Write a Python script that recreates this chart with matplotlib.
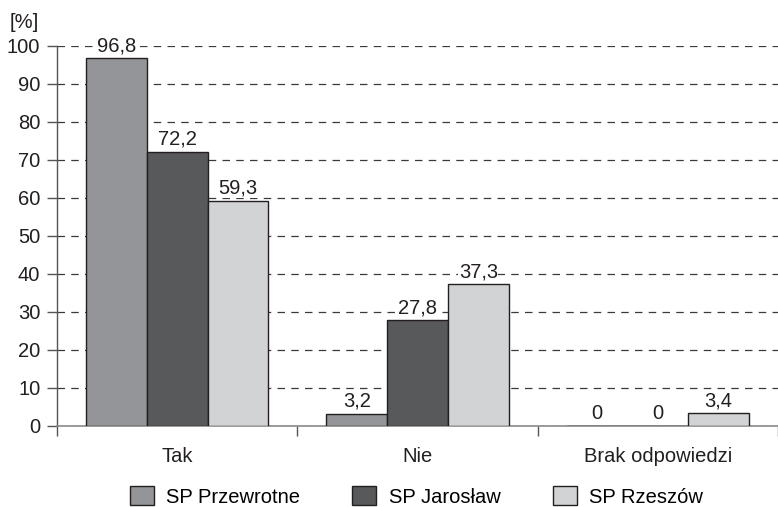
import matplotlib
matplotlib.use("Agg")
import matplotlib.pyplot as plt
import numpy as np

plt.rcParams['font.family'] = ['Liberation Sans', 'DejaVu Sans']

categories = ["Tak", "Nie", "Brak odpowiedzi"]
series_names = ["SP Przewrotne", "SP Jarosław", "SP Rzeszów"]
przewrotne = [96.8, 3.2, 0]
jaroslaw = [72.2, 27.8, 0]
rzeszow = [59.3, 37.3, 3.4]
value_labels = [["96,8", "3,2", "0"], ["72,2", "27,8", "0"], ["59,3", "37,3", "3,4"]]
y_ticks = [0, 10, 20, 30, 40, 50, 60, 70, 80, 90, 100]

colors = ["#939598", "#58595b", "#d1d3d4"]
edge = "#231f20"
fs = 14.5

fig = plt.figure(figsize=(7.78, 5.07), dpi=100)
ax = fig.add_axes([0.0733, 0.1598, 0.9267, 0.7495])

x = np.arange(len(categories))
width = 0.253
series = [przewrotne, jaroslaw, rzeszow]
for i, (vals, name, col) in enumerate(zip(series, series_names, colors)):
    pos = x + (i - 1) * width
    bars = ax.bar(pos, vals, width, color=col, edgecolor=edge, linewidth=1.0,
                  label=name, zorder=3)
    for b, v, lab in zip(bars, vals, value_labels[i]):
        ax.text(b.get_x() + b.get_width() / 2, v + 0.8, lab, ha="center", va="bottom",
                fontsize=fs, color="#231f20", zorder=4,
                bbox=dict(facecolor="white", edgecolor="none", pad=0.3))

ax.set_xlim(-0.5, 2.5)
ax.set_ylim(0, 100)
ax.set_yticks(y_ticks)
ax.set_yticklabels([str(t) for t in y_ticks], fontsize=fs, color="#231f20")
ax.yaxis.grid(True, linestyle=(0, (6, 5)), color="#3a3a3a", linewidth=0.9, zorder=0)
ax.set_axisbelow(True)

ax.set_xticks(x)
ax.set_xticklabels(categories, fontsize=fs, color="#231f20")
ax.tick_params(axis="x", which="major", length=0, pad=15)
ax.set_xticks([-0.5, 0.5, 1.5, 2.5], minor=True)
ax.tick_params(axis="x", which="minor", length=7, width=1.0, color="#555555", direction="out")
ax.tick_params(axis="y", length=7, width=1.0, color="#555555", direction="out", pad=5)

for s in ["top", "right"]:
    ax.spines[s].set_visible(False)
ax.spines["left"].set_color("#555555")
ax.spines["left"].set_linewidth(1.0)
ax.spines["bottom"].set_color("#8a8a8a")
ax.spines["bottom"].set_linewidth(1.2)

fig.text(0.012, 0.955, "[%]", fontsize=fs, color="#231f20", ha="left", va="center")

fig.legend(loc="lower center", bbox_to_anchor=(0.535, -0.035), ncol=3, frameon=False,
           fontsize=fs, handlelength=1.2, handleheight=1.1, handletextpad=0.6,
           columnspacing=2.6)

fig.savefig("out.png", dpi=100)
